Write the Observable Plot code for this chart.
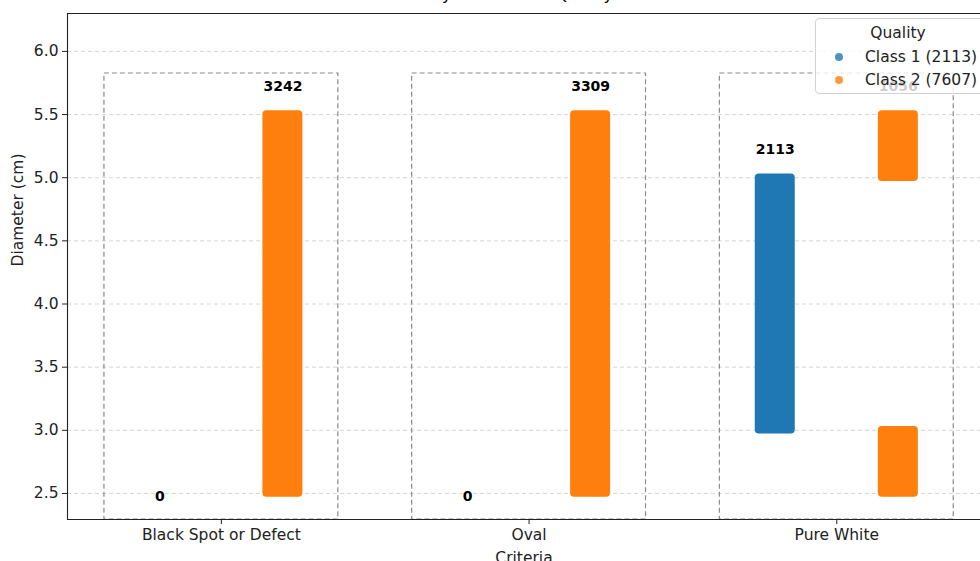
<!DOCTYPE html>
<html>
<head>
<meta charset="utf-8">
<script src="https://cdn.jsdelivr.net/npm/d3@7"></script>
<script src="https://cdn.jsdelivr.net/npm/@observablehq/plot@0.6"></script>
<style>
html, body { margin: 0; padding: 0; background: #fff; overflow: hidden; }
#wrap { position: relative; width: 980px; height: 561px; font-family: "DejaVu Sans", sans-serif; overflow: hidden; }
#chart { position: absolute; left: 0; top: 0; }
#title { position: absolute; left: 0; width: 1054px; text-align: center; top: -13.5px; font-size: 16px; line-height: 16px; color: #000; white-space: nowrap; }
#legend { position: absolute; left: 815px; top: 18px; width: 175px; height: 76px; box-sizing: border-box;
  background: rgba(255,255,255,0.8); border: 1px solid #d2d2d2; border-radius: 4px; font-size: 15.5px; color: #222; }
#legend .lt { position: absolute; left: 0; width: 164px; top: 5px; line-height: 18px; text-align: center; }
#legend .row { position: absolute; left: 0; height: 18px; line-height: 18px; white-space: nowrap; }
#legend .dot { position: absolute; left: 19px; top: 5px; width: 8px; height: 8px; border-radius: 50%; opacity: 0.8; }
#legend .lab { position: absolute; left: 49px; top: 0; }
</style>
</head>
<body>
<div id="wrap">
  <div id="chart"></div>
  <div id="title">Diameter Distribution by Criteria and Quality Class with Annotations</div>
  <div id="legend"></div>
</div>
<script>
// ---- data ----
const categories = ["Black Spot or Defect", "Oval", "Pure White"];
const classes = ["Class 1", "Class 2"];
const classColors = ["#1f77b4", "#ff7f0e"];
const classTotals = [2113, 7607];

// diameter ranges covered by each strip of points
const bandCategory = ["Black Spot or Defect", "Oval", "Pure White", "Pure White", "Pure White"];
const bandClass    = ["Class 2", "Class 2", "Class 1", "Class 2", "Class 2"];
const bandMin      = [2.5, 2.5, 3.0, 2.5, 5.0];
const bandMax      = [5.5, 5.5, 5.0, 3.0, 5.5];

// point counts per criteria / class
const countCategory = ["Black Spot or Defect", "Black Spot or Defect", "Oval", "Oval", "Pure White", "Pure White"];
const countClass    = ["Class 1", "Class 2", "Class 1", "Class 2", "Class 1", "Class 2"];
const countValue    = [0, 3242, 0, 3309, 2113, 1056];

const yTicks = [2.5, 3.0, 3.5, 4.0, 4.5, 5.0, 5.5, 6.0];

// ---- layout ----
const yMin = 2.294, yMax = 6.30;
const xMin = -0.5, xMax = 2.467;
const boxTop = 5.825;

const idx = c => categories.indexOf(c);
const off = k => (k === classes[0] ? -0.2 : 0.2);

const bands = bandCategory.map((c, i) => ({ category: c, cls: bandClass[i], lo: bandMin[i], hi: bandMax[i] }));
const counts = countCategory.map((c, i) => ({ category: c, cls: countClass[i], n: countValue[i] }));
const groupMax = (c, k) => d3.max(bands.filter(b => b.category === c && b.cls === k), b => b.hi);

const plot = Plot.plot({
  width: 980,
  height: 561,
  marginLeft: 67,
  marginRight: 0,
  marginTop: 13,
  marginBottom: 42,
  style: { fontFamily: "DejaVu Sans", fontSize: "15.5px", background: "transparent", color: "#222" },
  x: { domain: [xMin, xMax], axis: null },
  y: { domain: [yMin, yMax], axis: null },
  color: { domain: classes, range: classColors },
  marks: [
    Plot.ruleY(yTicks, { stroke: "#cccccc", strokeDasharray: "4,3", strokeWidth: 0.8 }),
    Plot.rect(categories, {
      x1: c => idx(c) - 0.38, x2: c => idx(c) + 0.38,
      y1: () => yMin, y2: () => boxTop,
      fill: "none", stroke: "#8a8a8a", strokeDasharray: "5,3", strokeWidth: 1.2
    }),
    Plot.rect(bands, {
      x1: d => idx(d.category) + off(d.cls) - 0.065,
      x2: d => idx(d.category) + off(d.cls) + 0.065,
      y1: d => d.lo - 0.03,
      y2: d => d.hi + 0.03,
      fill: d => d.cls,
      rx: 4
    }),
    Plot.text(counts, {
      x: d => idx(d.category) + off(d.cls),
      y: d => (d.n > 0 ? groupMax(d.category, d.cls) + 0.22 : 2.476),
      text: d => String(d.n),
      fontWeight: "bold",
      fontSize: 14,
      fill: "#000"
    }),
    Plot.axisY({ ticks: yTicks, tickFormat: d3.format(".1f"), tickSize: 5, tickPadding: 4, label: null }),
    Plot.axisX({ ticks: [0, 1, 2], tickFormat: i => categories[i], tickSize: 5, tickPadding: 4, label: null }),
    Plot.ruleY([yMax], { stroke: "#222", strokeWidth: 1.1 }),
    Plot.ruleY([yMin], { stroke: "#222", strokeWidth: 1.1 }),
    Plot.ruleX([xMin], { stroke: "#222", strokeWidth: 1.1 }),
    Plot.text(["Diameter (cm)"], { frameAnchor: "left", dx: -49, rotate: -90, text: d => d, fill: "#222" }),
    Plot.text(["Criteria"], { frameAnchor: "bottom", dy: 39, lineAnchor: "middle", text: d => d, fill: "#222" })
  ]
});
document.getElementById("chart").appendChild(plot);

// ---- legend ----
const legend = document.getElementById("legend");
const lt = document.createElement("div");
lt.className = "lt";
lt.textContent = "Quality";
legend.appendChild(lt);
classes.forEach((k, i) => {
  const row = document.createElement("div");
  row.className = "row";
  row.style.top = (29 + i * 23) + "px";
  const dot = document.createElement("span");
  dot.className = "dot";
  dot.style.background = classColors[i];
  const lab = document.createElement("span");
  lab.className = "lab";
  lab.textContent = `${k} (${classTotals[i]})`;
  row.appendChild(dot);
  row.appendChild(lab);
  legend.appendChild(row);
});
</script>
</body>
</html>
